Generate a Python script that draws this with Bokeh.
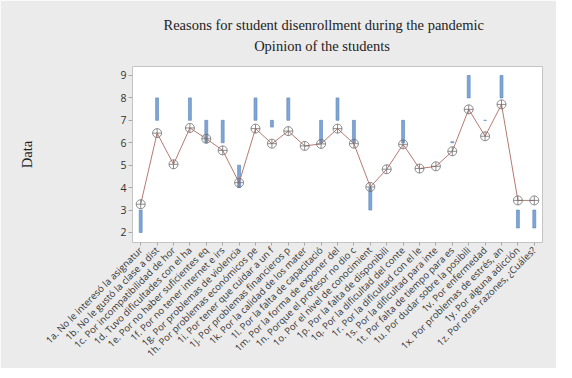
import numpy as np
from math import pi
from bokeh.plotting import figure
from bokeh.models import FactorRange, Range1d, FixedTicker
from bokeh.embed import file_html
from bokeh.resources import INLINE

categories = [
    "1a. No le interesó la asignatur",
    "1b. No le gustó la clase a dist",
    "1c. Por incompatibilidad de hor",
    "1d. Tuvo dificultades con el ha",
    "1e. Por no haber suficientes eq",
    "1f. Por no tener internet e irs",
    "1g. Por problemas de violencia",
    "1h. Por problemas económicos pe",
    "1i. Por tener que cuidar a un f",
    "1j. Por problemas financieros p",
    "1k. Por la calidad de los mater",
    "1l. Por la falta de capacitació",
    "1m. Por la forma de exponer del",
    "1n. Porque el profesor no dio c",
    "1o. Por el nivel de conocimient",
    "1p. Por la falta de disponibili",
    "1q. Por la dificultad del conte",
    "1r. Por la dificultad con el le",
    "1s. Por la dificultad para inte",
    "1t. Por falta de tiempo para es",
    "1u. Por dudar sobre la posibili",
    "1v. Por enfermedad",
    "1x. Por problemas de estrés, an",
    "1y. Por alguna adicción",
    "1z. Por otras razones, ¿Cuáles?",
]

means = [3.26, 6.43, 5.04, 6.66, 6.18, 5.66, 4.22, 6.63, 5.96, 6.52,
         5.86, 5.95, 6.63, 5.96, 4.03, 4.82, 5.93, 4.85, 4.95, 5.62,
         7.49, 6.29, 7.71, 3.43, 3.43]

nan = np.nan
q1 = [2, 7, nan, 7, 6, 6, 4, 7, 6.7, 7,
      nan, 6, 7, 6, 3, nan, 6, nan, nan, 6,
      8, 7, 8, 2.2, 2.2]
q3 = [3, 8, nan, 8, 7, 7, 5, 8, 7, 8,
      nan, 7, 8, 7, 4, nan, 7, nan, nan, 6.05,
      9, 7, 9, 3, 3]

y_ticks = [2, 3, 4, 5, 6, 7, 8, 9]

title_line1 = "Reasons for student disenrollment during the pandemic"
title_line2 = "Opinion of the students"
y_label = "Data"

p = figure(width=556, height=368,
           x_range=FactorRange(*categories),
           y_range=Range1d(1.554, 9.40),
           output_backend="svg", toolbar_location=None,
           min_border_left=132, min_border_right=14,
           min_border_top=66, min_border_bottom=126,
           border_fill_color="#ebebeb", background_fill_color="white",
           outline_line_color="#c4c4c4")

# second line is centred under the first with non-breaking spaces
p.title.text = title_line1 + "\n" + "\u00a0" * 25 + title_line2
p.title.align = "left"
p.title.offset = 31
p.title.standoff = 24
p.title.text_font = "Liberation Serif"
p.title.text_font_size = "14.5px"
p.title.text_font_style = "normal"
p.title.text_color = "#222222"
p.title.text_line_height = 1.35

p.xgrid.visible = False
p.ygrid.visible = False

p.yaxis.ticker = FixedTicker(ticks=y_ticks)
p.yaxis.minor_tick_line_color = None
p.yaxis.major_tick_out = 4
p.yaxis.major_tick_in = 0
p.yaxis.axis_line_color = None
p.yaxis.major_tick_line_color = "#a8a8a8"
p.yaxis.major_label_standoff = 2
p.yaxis.major_label_text_font = "Open Sans"
p.yaxis.major_label_text_font_size = "10.5px"
p.yaxis.major_label_text_color = "#333333"
p.yaxis.axis_label = y_label
p.yaxis.axis_label_text_font = "Liberation Serif"
p.yaxis.axis_label_text_font_size = "14.5px"
p.yaxis.axis_label_text_font_style = "normal"
p.yaxis.axis_label_text_color = "#222222"
p.yaxis.axis_label_standoff = 82

p.xaxis.major_label_orientation = pi / 4
p.xaxis.major_tick_out = 3
p.xaxis.major_tick_in = 0
p.xaxis.axis_line_color = None
p.xaxis.major_tick_line_color = "#a8a8a8"
p.xaxis.major_label_standoff = 3
p.xaxis.major_label_text_font = "Open Sans"
p.xaxis.major_label_text_font_size = "9.5px"
p.xaxis.major_label_text_color = "#333333"

p.vbar(x=categories, bottom=q1, top=q3, width=0.18,
       fill_color="#7ea7d8", line_color="#5a82b4", line_width=0.6)
p.line(categories, means, line_color="#b57a72", line_width=1)
p.scatter(categories, means, marker="circle_cross", size=9,
          fill_color=None, line_color="#707070", line_width=0.8)

open("out.html", "w").write(file_html(p, INLINE))
